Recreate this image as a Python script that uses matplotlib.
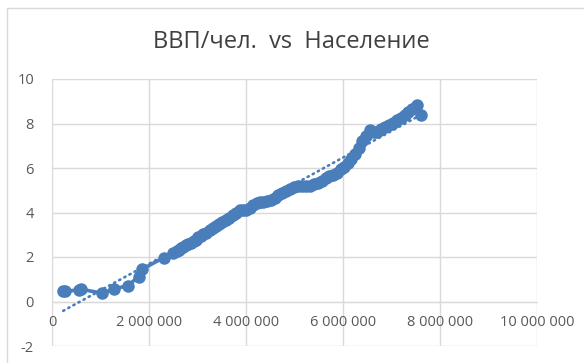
import matplotlib.pyplot as plt
import numpy as np
from matplotlib.patches import Rectangle

# население (тыс. чел.) и ВВП на душу (тыс.)
population = [231000, 268000, 556000, 603000, 1040000, 1270000, 1560000, 1790000, 1860000, 2300000,
              2500000, 2570000, 2620000, 2660000, 2710000, 2760000, 2810000, 2860000, 2920000, 2970000,
              3020000, 3070000, 3120000, 3180000, 3250000, 3310000, 3380000, 3450000, 3510000, 3580000,
              3650000, 3730000, 3800000, 3870000, 3940000, 4010000, 4080000, 4150000, 4220000, 4290000,
              4360000, 4440000, 4520000, 4600000, 4670000, 4750000, 4830000, 4910000, 4990000, 5080000,
              5160000, 5240000, 5320000, 5400000, 5480000, 5560000, 5640000, 5720000, 5800000, 5870000,
              5950000, 6020000, 6100000, 6170000, 6250000, 6320000, 6400000, 6480000, 6560000, 6630000,
              6710000, 6790000, 6870000, 6950000, 7030000, 7110000, 7190000, 7270000, 7350000, 7430000,
              7520000, 7610000]
gdp_per_capita = [0.48, 0.46, 0.52, 0.55, 0.37, 0.56, 0.71, 1.12, 1.45, 1.97,
                  2.17, 2.27, 2.33, 2.40, 2.46, 2.53, 2.58, 2.64, 2.71, 2.78,
                  2.88, 2.95, 3.02, 3.10, 3.20, 3.29, 3.38, 3.47, 3.56, 3.66,
                  3.76, 3.88, 3.99, 4.09, 4.09, 4.10, 4.22, 4.34, 4.44, 4.48,
                  4.47, 4.52, 4.55, 4.66, 4.80, 4.87, 4.96, 5.06, 5.13, 5.19,
                  5.21, 5.19, 5.21, 5.26, 5.34, 5.43, 5.53, 5.62, 5.68, 5.78,
                  5.95, 6.03, 6.21, 6.40, 6.64, 6.92, 7.20, 7.45, 7.71, 7.62,
                  7.64, 7.75, 7.85, 7.92, 8.01, 8.14, 8.25, 8.38, 8.52, 8.66,
                  8.84, 8.40]

x_ticks = [0, 2000000, 4000000, 6000000, 8000000, 10000000]
y_ticks = [-2, 0, 2, 4, 6, 8, 10]

blue = '#4a7ebb'
grid = '#d9d9d9'
txt = '#595959'
plt.rcParams['font.family'] = ['Open Sans', 'DejaVu Sans']

fig = plt.figure(figsize=(5.84, 3.63), dpi=100)
ax = fig.add_axes([52 / 584, 17 / 363, 485 / 584, 267 / 363])

# рамка области диаграммы
fig.patches.append(Rectangle((7 / 584, -0.1), 2, 1.1 - 8 / 363, transform=fig.transFigure,
                             fill=False, edgecolor=grid, linewidth=1))

x = np.array(population, dtype=float)
y = np.array(gdp_per_capita)
ax.plot(x, y, color=blue, lw=2.6, marker='o', ms=8, zorder=3)

# линейный тренд
k, b = np.polyfit(x, y, 1)
xt = np.array([x.min(), x.max()])
ax.plot(xt, k * xt + b, color=blue, lw=1.9, linestyle=(0, (0.5, 1.7)),
        dash_capstyle='round', zorder=4)

ax.set_xlim(0, 10000000)
ax.set_ylim(-2, 10)
ax.set_xticks(x_ticks)
ax.set_xticklabels(['{:,}'.format(v).replace(',', ' ') for v in x_ticks])
ax.set_yticks(y_ticks)
ax.set_yticklabels([str(v) for v in y_ticks])
ax.grid(True, color=grid, lw=1)
ax.set_axisbelow(True)

for s in ['top', 'right', 'left']:
    ax.spines[s].set_visible(False)
ax.spines['bottom'].set_position(('data', 0))
ax.spines['bottom'].set_color(grid)
ax.tick_params(length=0, labelsize=10.5, colors=txt)
ax.tick_params(axis='x', pad=10)
ax.tick_params(axis='y', pad=13)

fig.text(291 / 584, 1 - 42 / 363, 'ВВП/чел.  vs  Население', ha='center', va='center',
         fontsize=17, color='#404040')

fig.savefig('out.png', dpi=100)
